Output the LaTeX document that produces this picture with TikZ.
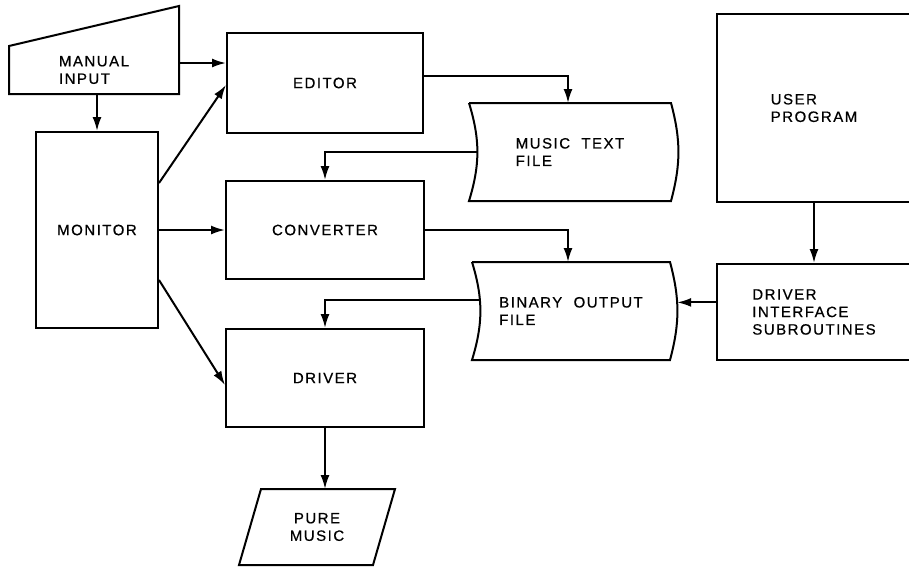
\documentclass[tikz,border=0pt]{standalone}
\usepackage{fontspec}
\setsansfont{Liberation Sans}[LetterSpace=10, WordSpace=2, FakeBold=0.6]
\usetikzlibrary{arrows.meta}

\begin{document}
\begin{tikzpicture}[
  x=1pt, y=-1pt,
  font=\sffamily\fontsize{15}{17.5}\selectfont,
  line width=2pt,
  box/.style   ={draw, align=left, inner sep=0pt},
  blank/.style ={align=left, inner sep=0pt},
  arr/.style   ={-{Latex[length=14pt, width=9pt]}, line width=2pt},
]
  \clip (0,0) rectangle (909,566);

  % plain boxes
  \node[box, minimum width=196, minimum height=100] (editor)    at (325,83)  {EDITOR};
  \node[box, minimum width=198, minimum height=98]  (converter) at (325,230) {CONVERTER};
  \node[box, minimum width=198, minimum height=98]  (driver)    at (325,378) {DRIVER};
  \node[box, minimum width=122, minimum height=196] (monitor)   at (97,230)  {MONITOR};
  \node[box, minimum width=194, minimum height=188] (userprog)  at (814,108) {USER\\PROGRAM};
  \node[box, minimum width=194, minimum height=96]  (drvif)     at (814,312) {DRIVER\\INTERFACE\\SUBROUTINES};

  % odd shapes: text here, outlines below
  \node[blank, minimum width=168, minimum height=46] (manin) at (94,70)   {MANUAL\\INPUT};
  \node[blank, minimum width=200, minimum height=96] (mtf)   at (570,152) {MUSIC TEXT\\FILE};
  \node[blank, minimum width=196, minimum height=96] (bof)   at (571,311) {BINARY OUTPUT\\FILE};
  \node[blank, minimum width=132, minimum height=74, align=center] (pure) at (317,527) {PURE\\MUSIC};

  \draw (manin.south west) -- (manin.north west) -- ([yshift=40pt]manin.north east) -- (manin.south east) -- cycle;
  \draw (mtf.north west) -- (mtf.north east) to[bend left=15] (mtf.south east) -- (mtf.south west)
        to[bend right=17] node[coordinate, pos=0.5] (mtf-l) {} (mtf.north west);
  \draw (bof.north west) -- (bof.north east) to[bend left=15] node[coordinate, pos=0.40625] (bof-r) {} (bof.south east)
        -- (bof.south west) to[bend right=17] node[coordinate, pos=0.6146] (bof-l) {} (bof.north west);
  \draw ([xshift=11pt]pure.north west) -- ([xshift=11pt]pure.north east)
        -- ([xshift=-11pt]pure.south east) -- ([xshift=-11pt]pure.south west) -- cycle;

  % connectors
  \draw[arr] ([yshift=7pt]manin.east) -- ([yshift=7pt]manin.east -| editor.west);
  \draw[arr] (manin.south -| monitor.north) -- (monitor.north);
  \draw[arr] ([yshift=47pt]monitor.east) -- ([yshift=-2pt]editor.west);
  \draw[arr] (monitor.east) -- (monitor.east -| converter.west);
  \draw[arr] ([yshift=-50pt]monitor.east) -- ([yshift=-7pt]driver.west);
  \draw[arr] ([yshift=7pt]editor.east) -| ([xshift=-2pt]mtf.north);
  \draw[arr] (mtf-l) -| (converter.north);
  \draw[arr] (converter.east) -| ([xshift=-3pt]bof.north);
  \draw[arr] (bof-l) -| (driver.north);
  \draw[arr] (userprog.south) -- (drvif.north);
  \draw[arr] (drvif.west |- bof-r) -- (bof-r);
  \draw[arr] (driver.south) -- (driver.south |- pure.north);
\end{tikzpicture}
\end{document}
